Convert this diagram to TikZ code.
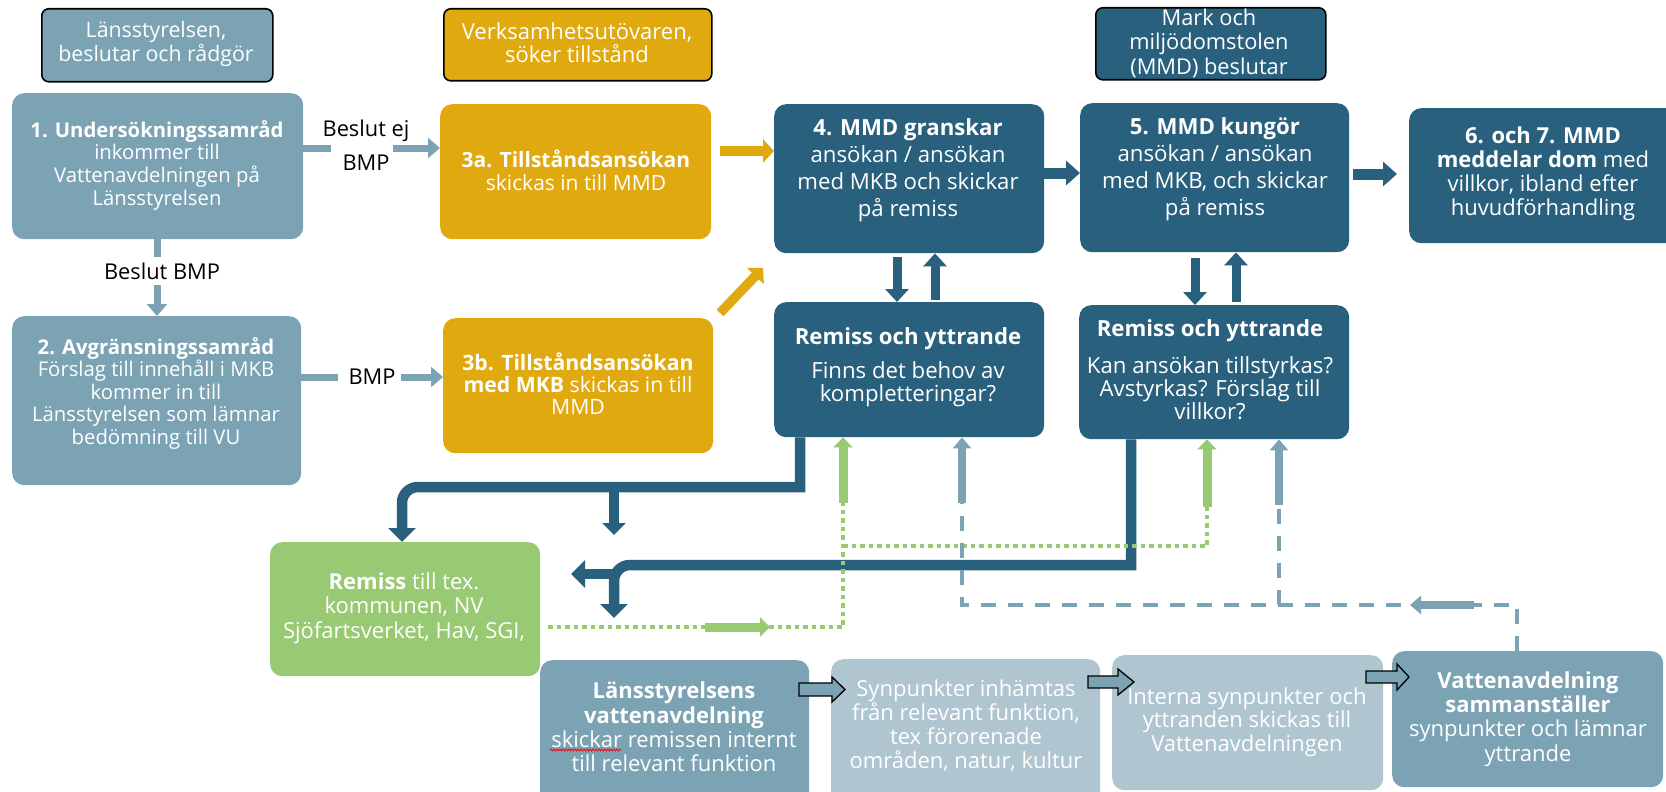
\documentclass[tikz,border=0pt]{standalone}
\usepackage{fontspec}
\setmainfont{Open Sans}
\usetikzlibrary{arrows.meta,decorations.pathmorphing}
\definecolor{lsb}{HTML}{7BA3B4}
\definecolor{gld}{HTML}{DFA90F}
\definecolor{drk}{HTML}{29607D}
\definecolor{grn}{HTML}{98C973}
\definecolor{pale}{HTML}{AFC6D0}
\begin{document}
\begin{tikzpicture}[x=1pt,y=-1pt,
  box/.style={rounded corners=12pt, inner sep=0pt, anchor=north west},
  hdr/.style={rounded corners=7pt, inner sep=0pt, anchor=north west, draw=black, line width=1.6pt},
  tx/.style 2 args={align=center, text=white, inner sep=0pt, font=\fontsize{#1}{#2}\selectfont},
  lab/.style={align=center, text=black, inner sep=0pt, font=\fontsize{21.8}{34}\selectfont},
  lbline/.style={draw=lsb, line width=7pt},
  lbarrow/.style={lbline, -{Triangle[length=12pt,width=20pt]}},
  gdarrow/.style={draw=gld, line width=9.5pt, -{Triangle[length=11pt,width=23pt]}},
  dkarrow/.style={draw=drk, line width=11pt, -{Triangle[length=14pt,width=24pt]}},
  dkvarrow/.style={draw=drk, line width=9pt, -{Triangle[length=13pt,width=23pt]}},
  dkconn/.style={draw=drk, line width=10.5pt, -{Triangle[length=14pt,width=27pt]}},
  grdot/.style={draw=grn, line width=4pt, dash pattern=on 4.5pt off 4pt},
  grarrow/.style={draw=grn, line width=9pt, -{Triangle[length=10pt,width=19pt]}},
  bldash/.style={draw=lsb, line width=4.5pt, dash pattern=on 15pt off 12pt},
  blarrow/.style={draw=lsb, line width=8pt, -{Triangle[length=11pt,width=18pt]}},
  outarr/.style={draw=black, fill=lsb, line width=1.3pt, line join=miter}
]
\useasboundingbox (0,0) rectangle (1666,792);

% header boxes
\node[hdr, fill=lsb, minimum width=231pt, minimum height=73pt] (h1) at (41,8) {};
\node[tx={21.3}{24}] (h1t) at (156,44) {Länsstyrelsen,\\beslutar och rådgör};
\node[hdr, fill=gld, minimum width=268pt, minimum height=72pt] (h2) at (443,8) {};
\node[tx={22}{22.5}] (h2t) at (577,43) {Verksamhetsutövaren,\\söker tillstånd};
\node[hdr, fill=drk, minimum width=230pt, minimum height=72pt] (h3) at (1095,7) {};
\node[tx={21.8}{24.5}] (h3t) at (1209,43) {Mark och\\miljödomstolen\\(MMD) beslutar};

% main boxes
\node[box, fill=lsb, minimum width=291pt, minimum height=146pt] (b1) at (12,93) {};
\node[tx={20.3}{22.7}] (b1t) at (157,165) {\textbf{1. Undersökningssamråd}\\inkommer till\\Vattenavdelningen på\\Länsstyrelsen};
\node[box, fill=lsb, minimum width=289pt, minimum height=169pt] (b2) at (12,316) {};
\node[tx={20.3}{22.5}] (b2t) at (156,393) {\textbf{2. Avgränsningssamråd}\\Förslag till innehåll i MKB\\kommer in till\\Länsstyrelsen som lämnar\\bedömning till VU};
\node[box, fill=gld, minimum width=271pt, minimum height=135pt] (b3a) at (440,104) {};
\node[tx={21}{23}] (b3at) at (576,170) {\textbf{3a. Tillståndsansökan}\\skickas in till MMD};
\node[box, fill=gld, minimum width=270pt, minimum height=135pt] (b3b) at (443,318) {};
\node[tx={21.2}{22}] (b3bt) at (578,384) {\textbf{3b. Tillståndsansökan}\\\textbf{med MKB} skickas in till\\MMD};
\node[box, fill=drk, minimum width=270pt, minimum height=149pt] (b4) at (774,104) {};
\node[tx={22.2}{27}] (b4t) at (908,170) {\textbf{4. MMD granskar}\\ansökan / ansökan\\med MKB och skickar\\på remiss};
\node[box, fill=drk, minimum width=269pt, minimum height=149pt] (b5) at (1080,103) {};
\node[tx={22.2}{27}] (b5t) at (1215,169) {\textbf{5. MMD kungör}\\ansökan / ansökan\\med MKB, och skickar\\på remiss};
\node[box, fill=drk, minimum width=271pt, minimum height=135pt] (b6) at (1409,108) {};
\node[tx={22}{24}] (b6t) at (1543,174) {\textbf{6. och 7. MMD}\\\textbf{meddelar dom} med\\villkor, ibland efter\\huvudförhandling};
\node[box, fill=drk, minimum width=270pt, minimum height=135pt] (r1) at (774,302) {};
\node[tx={22.2}{22.5}] (r1t) at (908,367) {\textbf{Remiss och yttrande}\\[12pt]Finns det behov av\\kompletteringar?};
\node[box, fill=drk, minimum width=270pt, minimum height=134pt] (r2) at (1079,305) {};
\node[tx={22.2}{23}] (r2t) at (1210,370) {\textbf{Remiss och yttrande}\\[14pt]Kan ansökan tillstyrkas?\\Avstyrkas? Förslag till\\villkor?};

% bottom boxes
\node[box, fill=grn, minimum width=270pt, minimum height=134pt] (g) at (270,542) {};
\node[tx={22}{24.5}] (gt) at (404,608) {\textbf{Remiss} till tex.\\kommunen, NV\\Sjöfartsverket, Hav, SGI,};
\node[box, fill=lsb, minimum width=269pt, minimum height=145pt] (lv) at (540,660) {};
\node[tx={22}{24.3}] (lvt) at (674,727) {\textbf{Länsstyrelsens}\\\textbf{vattenavdelning}\\skickar remissen internt\\till relevant funktion};
\node[box, fill=pale, minimum width=269pt, minimum height=145pt] (syn) at (831,659) {};
\node[tx={22}{24}] (synt) at (966,726) {Synpunkter inhämtas\\från relevant funktion,\\tex förorenade\\områden, natur, kultur};
\node[box, fill=pale, minimum width=271pt, minimum height=135pt] (int) at (1112,655) {};
\node[tx={22}{23.5}] (intt) at (1247,722) {Interna synpunkter och\\yttranden skickas till\\Vattenavdelningen};
\node[box, fill=lsb, minimum width=271pt, minimum height=136pt] (vat) at (1392,651) {};
\node[tx={22}{24.3}] (vatt) at (1528,719) {\textbf{Vattenavdelning}\\\textbf{sammanställer}\\synpunkter och lämnar\\yttrande};

% labels
\node[lab] (l1) at (366,145) {Beslut ej\\BMP};
\node[lab] (l2) at (162,271) {Beslut BMP};
\node[lab] (l3) at (372,377) {BMP};

% light connectors
\draw[lbline] (b1.east |- 0,148) -- (331,148);
\draw[lbarrow] (393,148) -- (b3a.west |- 0,148);
\draw[lbline] (b1.south -| 157,0) -- (157,257);
\draw[lbarrow] (157,285) -- (b2.north -| 157,0);
\draw[lbline] (b2.east |- 0,377) -- (338,377);
\draw[lbarrow] (401,377) -- (b3b.west |- 0,377);

% gold connectors
\draw[gdarrow] (720,151) -- (b4.west |- 0,151);
\draw[gdarrow] (720,313) -- (763,268);

% dark connectors
\draw[dkarrow] (b4.east |- 0,173) -- (b5.west |- 0,173);
\draw[dkarrow] (1353,174) -- (1397,174);
\draw[dkvarrow] (897,257) -- (r1.north -| 897,0);
\draw[dkvarrow] (935,300) -- (b4.south -| 935,0);
\draw[dkvarrow] (1195,258) -- (r2.north -| 1195,0);
\draw[dkvarrow] (1236,302) -- (b5.south -| 1236,0);

\coordinate (e1) at (614,535);
\coordinate (e2) at (614,618);
\coordinate (e3) at (571,574);
\draw[dkconn] (r1.south -| 800,0) -- (800,487) [rounded corners=16pt] -- (402,487) -- (g.north -| 402,0);
\draw[dkconn, -{Triangle[length=12pt,width=23pt]}] (614,487) -- (e1);
\draw[dkconn] (r2.south -| 1131,0) -- (1131,565) [rounded corners=16pt] -- (614,565) -- (e2);
\draw[dkconn] (614,574) -- (e3);

% green dotted
\draw[grdot] (548,627) -- (843,627) -- (843,503);
\draw[grarrow] (843,503) -- (r1.south -| 843,0);
\draw[grarrow] (705,627) -- (770,627);
\draw[grdot] (843,546) -- (1207,546) -- (1207,507);
\draw[grarrow] (1207,507) -- (r2.south -| 1207,0);

% blue dashed
\draw[bldash] (vat.north -| 1517,0) -- (1517,605) -- (962,605) -- (962,503);
\draw[blarrow] (962,503) -- (r1.south -| 962,0);
\draw[blarrow] (1474,605) -- (1410,605);
\draw[bldash] (1279,605) -- (1279,505);
\draw[blarrow] (1279,505) -- (r2.south -| 1279,0);

% block arrows
\draw[outarr] (799,683) -- (832,683) -- (832,677) -- (845,689.5) -- (832,702) -- (832,696) -- (799,696) -- cycle;
\draw[outarr] (1088,676) -- (1118,676) -- (1118,669) -- (1134,682) -- (1118,695) -- (1118,688) -- (1088,688) -- cycle;
\draw[outarr] (1366,671) -- (1397,671) -- (1397,664) -- (1409,677) -- (1397,690) -- (1397,683) -- (1366,683) -- cycle;

% spell-check squiggle
\draw[red, line width=0.8pt, decorate, decoration={snake, amplitude=1pt, segment length=3pt}] (550,750) -- (621,750);
\end{tikzpicture}
\end{document}
